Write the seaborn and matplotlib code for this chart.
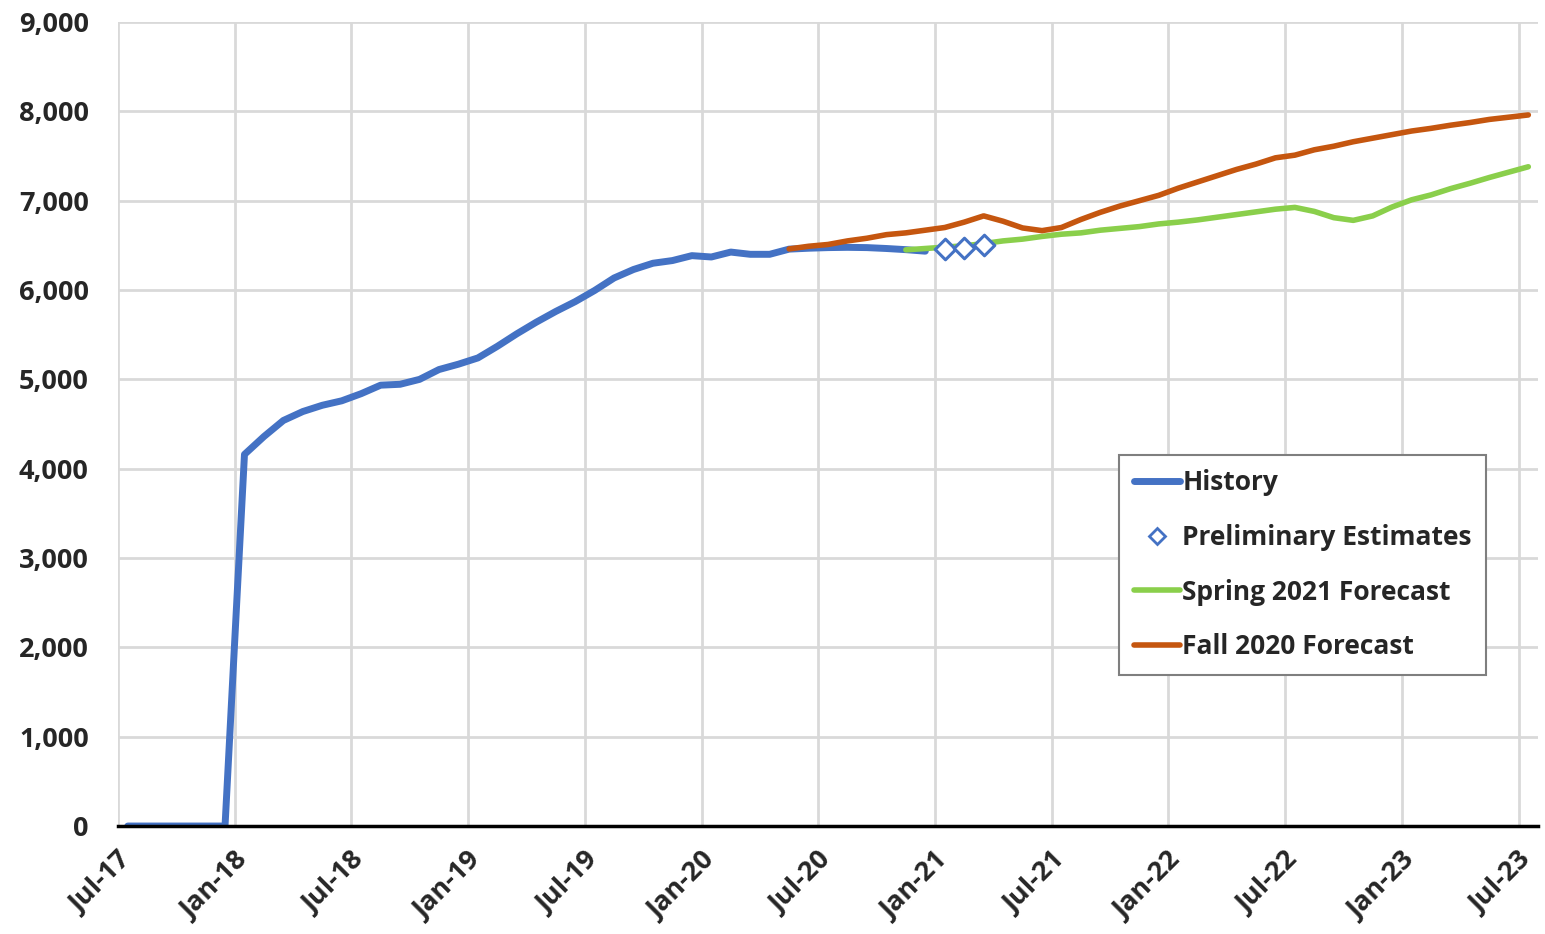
import pandas as pd
import matplotlib.pyplot as plt
from matplotlib.lines import Line2D
import seaborn as sns
import numpy as np

# monthly series, Jul-17 .. Jul-23 (73 months)
months = pd.date_range('2017-07-01', '2023-07-01', freq='MS')

history = [0, 0, 0, 0, 0, 0, 4160, 4360, 4540, 4640, 4710, 4760,
           4840, 4935, 4945, 5000, 5110, 5170, 5240, 5370, 5510, 5640, 5760, 5870,
           5995, 6135, 6230, 6300, 6330, 6385, 6370, 6425, 6400, 6400, 6458, 6468,
           6475, 6478, 6475, 6465, 6452, 6435]
prelim = [6455, 6465, 6500]  # Jan-21 .. Mar-21
spring_2021 = [6450, 6465, 6480, 6495, 6520, 6550, 6570, 6600, 6625, 6640,
               6670, 6690, 6710, 6740, 6760, 6785, 6815, 6845, 6875, 6905,
               6925, 6880, 6810, 6780, 6830, 6930, 7010, 7065, 7135, 7195,
               7260, 7320, 7380]  # Nov-20 .. Jul-23
fall_2020 = [6460, 6490, 6510, 6550, 6580, 6620, 6640, 6670, 6700, 6760,
             6830, 6770, 6695, 6665, 6700, 6790, 6870, 6940, 7000, 7060,
             7140, 7210, 7280, 7350, 7410, 7480, 7510, 7570, 7610, 7660,
             7700, 7740, 7780, 7810, 7845, 7875, 7910, 7935, 7960]  # May-20 .. Jul-23

c_hist = '#4472C4'
c_spring = '#8ACF4B'
c_fall = '#C5560F'

x_all = np.arange(len(months)) + 0.5
df_hist = pd.DataFrame({'x': x_all[:len(history)], 'y': history})
df_pre = pd.DataFrame({'x': x_all[42:45], 'y': prelim})
df_spring = pd.DataFrame({'x': x_all[40:40 + len(spring_2021)], 'y': spring_2021})
df_fall = pd.DataFrame({'x': x_all[34:34 + len(fall_2020)], 'y': fall_2020})

sns.set_style('white')
plt.rcParams['font.family'] = ['Open Sans', 'DejaVu Sans']
plt.rcParams['font.weight'] = 'bold'

fig = plt.figure(figsize=(15.45, 9.34), dpi=100)
ax = fig.add_axes([0.0764, 0.1156, 0.9191, 0.8608])

sns.lineplot(data=df_hist, x='x', y='y', color=c_hist, linewidth=5, ax=ax, zorder=3)
sns.lineplot(data=df_spring, x='x', y='y', color=c_spring, linewidth=4, ax=ax, zorder=4)
sns.lineplot(data=df_fall, x='x', y='y', color=c_fall, linewidth=4, ax=ax, zorder=5)
sns.scatterplot(data=df_pre, x='x', y='y', marker='D', s=110, facecolor='white',
                edgecolor=c_hist, linewidth=2.2, ax=ax, zorder=6)

ax.set_xlim(0, len(months))
ax.set_ylim(0, 9000)
ax.set_yticks(np.arange(0, 9001, 1000))
ax.set_yticklabels([f'{v:,}' for v in range(0, 9001, 1000)], fontsize=19.5, fontweight='bold')
major = np.arange(0, len(months), 6)
ax.set_xticks(major)
ax.set_xticklabels([months[i].strftime('%b-%y') for i in major], rotation=45,
                   ha='right', rotation_mode='anchor', fontsize=19.5, fontweight='bold')
ax.set_xticks(np.arange(3, len(months), 6), minor=True)
ax.tick_params(axis='x', which='major', direction='in', length=10, width=2, pad=15)
ax.tick_params(axis='x', which='minor', direction='in', length=6, width=2)
ax.tick_params(axis='y', length=0, pad=21)
ax.set_xlabel('')
ax.set_ylabel('')

ax.grid(True, which='major', color='#D9D9D9', linewidth=2)
ax.set_axisbelow(True)
for s in ['top', 'right', 'left']:
    ax.spines[s].set_visible(False)
ax.spines['bottom'].set_color('black')
ax.spines['bottom'].set_linewidth(2.5)
ax.spines['bottom'].set_zorder(7)

handles = [
    Line2D([], [], color=c_hist, linewidth=5),
    Line2D([], [], color=c_hist, marker='D', linestyle='none', markersize=8,
           markerfacecolor='white', markeredgewidth=2),
    Line2D([], [], color=c_spring, linewidth=4),
    Line2D([], [], color=c_fall, linewidth=4),
]
labels = ['History', 'Preliminary Estimates', 'Spring 2021 Forecast', 'Fall 2020 Forecast']
leg = ax.legend(handles, labels, loc='upper left', bbox_to_anchor=(0.705, 0.462),
                frameon=True, fancybox=False, framealpha=1,
                edgecolor='#7F7F7F', handlelength=1.75, handletextpad=0.1,
                labelspacing=1.05, borderpad=0.55, borderaxespad=0,
                prop={'weight': 'bold', 'size': 19})
leg.get_frame().set_linewidth(1.5)

plt.savefig('out.png', dpi=100)
